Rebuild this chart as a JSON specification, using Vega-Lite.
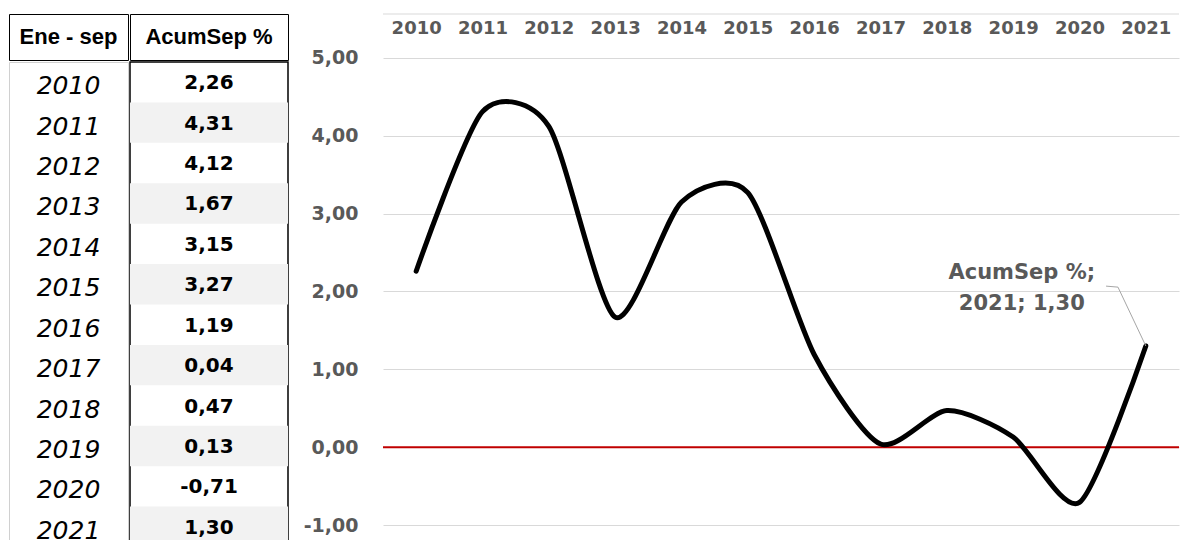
{
  "$schema": "https://vega.github.io/schema/vega-lite/v6.json",
  "padding": {"left": 8, "top": 13, "right": 0, "bottom": 0},
  "background": "white",
  "config": {
    "locale": {"number": {"decimal": ",", "thousands": ".", "grouping": [3], "currency": ["", " €"], "minus": "-"}},
    "view": {"stroke": null}
  },
  "datasets": {
    "acum": [
      {"year": 2010, "value": 2.26},
      {"year": 2011, "value": 4.31},
      {"year": 2012, "value": 4.12},
      {"year": 2013, "value": 1.67},
      {"year": 2014, "value": 3.15},
      {"year": 2015, "value": 3.27},
      {"year": 2016, "value": 1.19},
      {"year": 2017, "value": 0.04},
      {"year": 2018, "value": 0.47},
      {"year": 2019, "value": 0.13},
      {"year": 2020, "value": -0.71},
      {"year": 2021, "value": 1.30}
    ]
  },
  "spacing": 14,
  "hconcat": [
    {
      "spacing": 0,
      "vconcat": [
        {
          "spacing": 0,
          "hconcat": [
            {
              "width": 119, "height": 46,
              "view": {"stroke": "#000", "strokeWidth": 1, "fill": "white"},
              "data": {"values": [{"h": "Ene - sep"}]},
              "mark": {"type": "text", "font": "Liberation Sans", "fontWeight": "bold", "fontSize": 22, "color": "#000", "dy": 0},
              "encoding": {"text": {"field": "h", "type": "nominal"}}
            },
            {
              "width": 158, "height": 46,
              "view": {"stroke": "#000", "strokeWidth": 1, "fill": "white"},
              "data": {"values": [{"h": "AcumSep %"}]},
              "mark": {"type": "text", "font": "Liberation Sans", "fontWeight": "bold", "fontSize": 22, "color": "#000", "dy": 0},
              "encoding": {"text": {"field": "h", "type": "nominal"}}
            }
          ]
        },
        {
          "spacing": 0,
          "hconcat": [
            {
              "width": 119, "height": 485,
              "view": {"fill": "white", "stroke": "#d0d0d0", "strokeWidth": 1},
              "data": {"name": "acum"},
              "mark": {"type": "text", "font": "DejaVu Sans", "fontStyle": "italic", "fontSize": 25, "color": "#000", "dy": 4},
              "encoding": {
                "y": {"field": "year", "type": "ordinal", "axis": null,
                      "scale": {"type": "band", "paddingInner": 0, "paddingOuter": 0, "domain": [2010, 2011, 2012, 2013, 2014, 2015, 2016, 2017, 2018, 2019, 2020, 2021]}},
                "text": {"field": "year", "type": "nominal"}
              }
            },
            {
              "width": 158, "height": 485,
              "view": {"stroke": "#000", "strokeWidth": 1.5, "fill": "white"},
              "data": {"name": "acum"},
              "layer": [
                {
                  "transform": [{"filter": "datum.year % 2 == 1"}],
                  "mark": {"type": "rect", "color": "#f2f2f2"},
                  "encoding": {
                    "y": {"field": "year", "type": "ordinal", "axis": null,
                          "scale": {"type": "band", "paddingInner": 0, "paddingOuter": 0, "domain": [2010, 2011, 2012, 2013, 2014, 2015, 2016, 2017, 2018, 2019, 2020, 2021]}}
                  }
                },
                {
                  "mark": {"type": "text", "font": "DejaVu Sans", "fontWeight": "bold", "fontSize": 20, "color": "#000", "dy": 1},
                  "encoding": {
                    "y": {"field": "year", "type": "ordinal", "axis": null},
                    "text": {"field": "value", "type": "quantitative", "format": ".2f"}
                  }
                }
              ]
            }
          ]
        }
      ]
    },
    {
      "width": 796,
      "height": 511,
      "layer": [
        {
          "data": {"values": [{}]},
          "mark": {"type": "rule", "color": "#d9d9d9", "strokeWidth": 1},
          "encoding": {"y": {"datum": 5.565, "type": "quantitative"}}
        },
        {
          "data": {"values": [{}]},
          "mark": {"type": "rule", "color": "#c00000", "strokeWidth": 2},
          "encoding": {"y": {"datum": 0, "type": "quantitative"}}
        },
        {
          "data": {"name": "acum"},
          "mark": {"type": "line", "interpolate": "cardinal", "tension": 0.25, "color": "#000", "strokeWidth": 5, "strokeCap": "round"},
          "encoding": {
            "x": {"field": "year", "type": "quantitative",
                  "scale": {"domain": [2009.5, 2021.5], "nice": false, "zero": false},
                  "axis": {"orient": "top", "values": [2010, 2011, 2012, 2013, 2014, 2015, 2016, 2017, 2018, 2019, 2020, 2021],
                           "format": "d", "grid": false, "domain": false, "ticks": false, "tickSize": 0, "labelPadding": 0,
                           "offset": -14, "labelBaseline": "middle", "labelFont": "DejaVu Sans", "labelFontWeight": "bold",
                           "labelFontSize": 18, "labelColor": "#595959", "title": null, "labelOverlap": false, "labelFlush": false}},
            "y": {"field": "value", "type": "quantitative",
                  "scale": {"domain": [-1, 5.565], "nice": false, "zero": false},
                  "axis": {"values": [-1, 0, 1, 2, 3, 4, 5], "format": ".2f", "grid": true, "gridColor": "#d9d9d9", "gridWidth": 1,
                           "domain": false, "ticks": false, "tickSize": 0, "labelPadding": 25, "labelFont": "DejaVu Sans",
                           "labelFontWeight": "bold", "labelFontSize": 19, "labelColor": "#595959", "title": null, "labelFlush": false}}
          }
        },
        {
          "data": {"values": [{}]},
          "mark": {"type": "rule", "color": "#a6a6a6", "strokeWidth": 1},
          "encoding": {
            "x": {"datum": 2020.40, "type": "quantitative"}, "x2": {"datum": 2020.58},
            "y": {"datum": 2.069, "type": "quantitative"}, "y2": {"datum": 2.056}
          }
        },
        {
          "data": {"values": [{}]},
          "mark": {"type": "rule", "color": "#a6a6a6", "strokeWidth": 1},
          "encoding": {
            "x": {"datum": 2020.58, "type": "quantitative"}, "x2": {"datum": 2021.0},
            "y": {"datum": 2.056, "type": "quantitative"}, "y2": {"datum": 1.30}
          }
        },
        {
          "data": {"values": [{"t": "AcumSep %;"}]},
          "mark": {"type": "text", "font": "DejaVu Sans", "fontWeight": "bold", "fontSize": 21, "color": "#595959"},
          "encoding": {
            "x": {"datum": 2019.13, "type": "quantitative"},
            "y": {"datum": 2.236, "type": "quantitative"},
            "text": {"field": "t", "type": "nominal"}
          }
        },
        {
          "data": {"values": [{"t": "2021; 1,30"}]},
          "mark": {"type": "text", "font": "DejaVu Sans", "fontWeight": "bold", "fontSize": 21, "color": "#595959"},
          "encoding": {
            "x": {"datum": 2019.13, "type": "quantitative"},
            "y": {"datum": 1.837, "type": "quantitative"},
            "text": {"field": "t", "type": "nominal"}
          }
        }
      ]
    }
  ]
}
